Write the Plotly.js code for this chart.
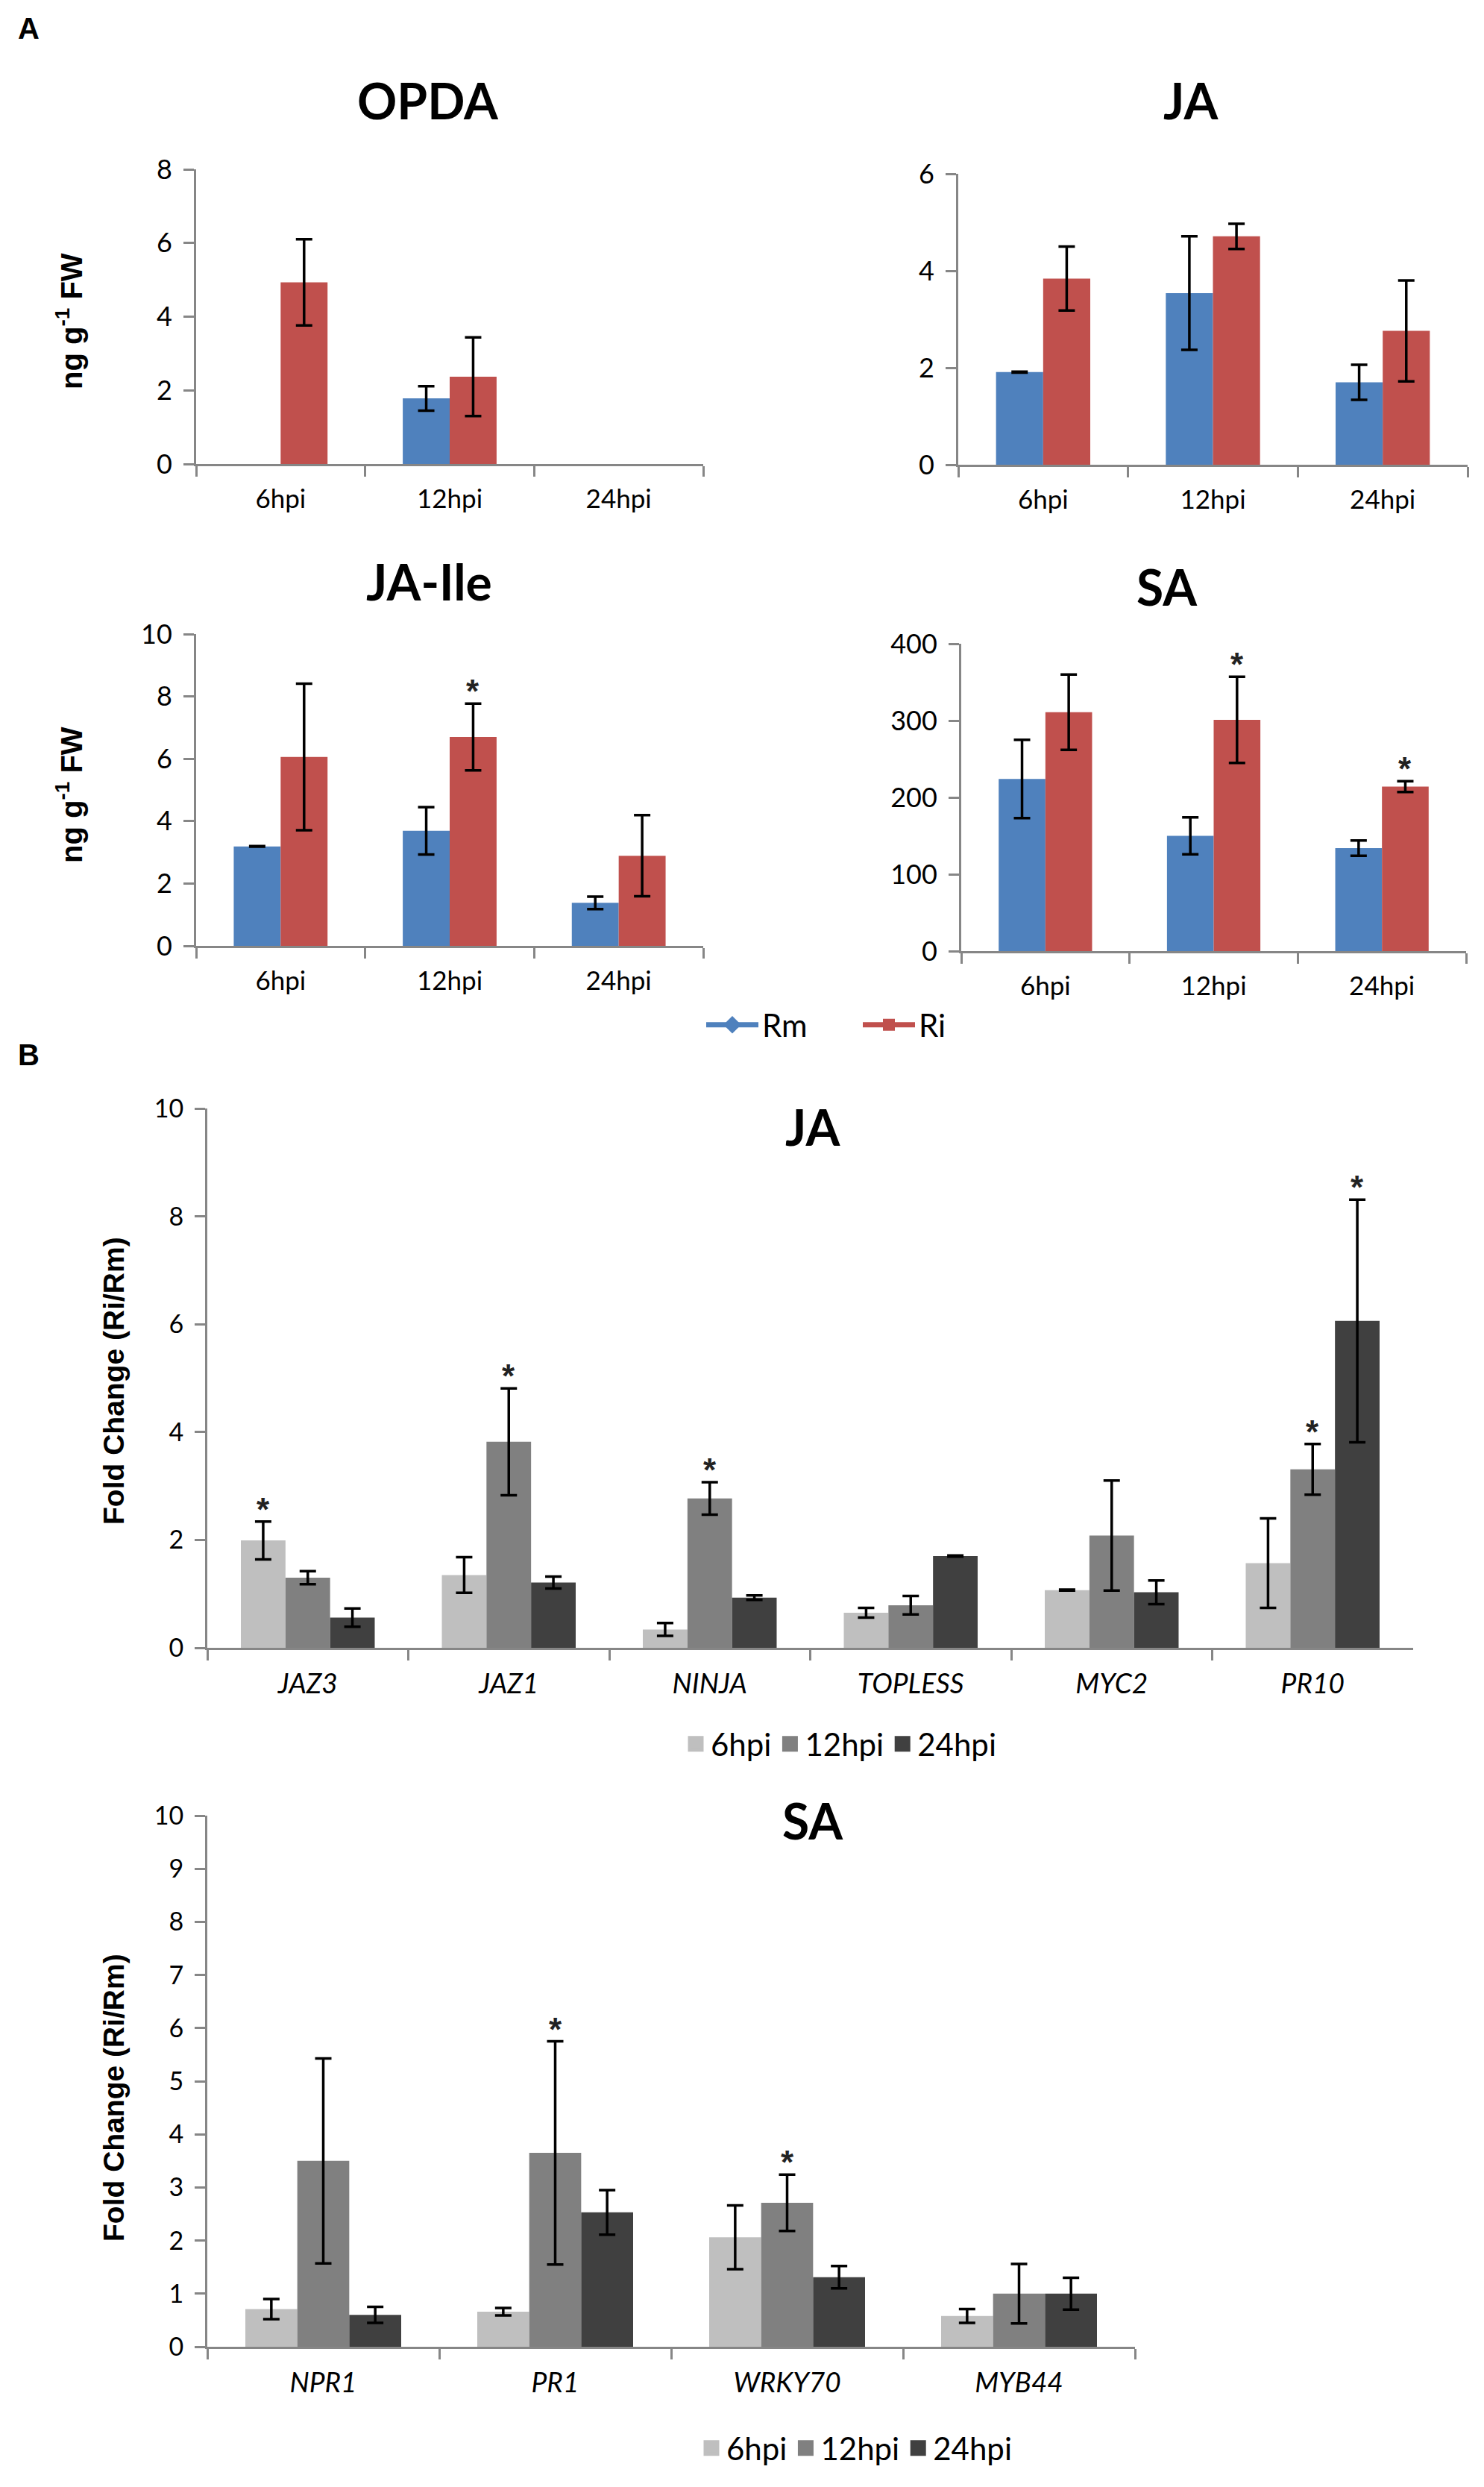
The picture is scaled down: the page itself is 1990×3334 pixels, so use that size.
<!DOCTYPE html>
<html><head><meta charset="utf-8">
<script src="https://cdn.plot.ly/plotly-3.0.1.min.js"></script>
<style>html,body{margin:0;padding:0;background:#fff}</style>
</head><body><div id="chart" style="width:1990px;height:3334px"></div>
<script>
// ---------- DATA ----------
const timepoints = ['6hpi', '12hpi', '24hpi'];

// Panel A: hormone levels (ng g-1 FW), Rm vs Ri
const opdaRm = [null, 1.78, null];
const opdaRmErr = [0, 0.33, 0];
const opdaRi = [4.93, 2.37, null];
const opdaRiErr = [1.17, 1.07, 0];
const opdaRmSig = [false, false, false];
const opdaRiSig = [false, false, false];

const jaRm = [1.91, 3.54, 1.70];
const jaRmErr = [0.01, 1.17, 0.36];
const jaRi = [3.84, 4.71, 2.76];
const jaRiErr = [0.66, 0.26, 1.04];
const jaRmSig = [false, false, false];
const jaRiSig = [false, false, false];

const jaIleRm = [3.19, 3.69, 1.38];
const jaIleRmErr = [0.01, 0.76, 0.20];
const jaIleRi = [6.06, 6.70, 2.89];
const jaIleRiErr = [2.35, 1.07, 1.30];
const jaIleRmSig = [false, false, false];
const jaIleRiSig = [false, true, false];

const saRm = [224, 150, 134];
const saRmErr = [51, 24, 10];
const saRi = [311, 301, 214];
const saRiErr = [49, 56, 7];
const saRmSig = [false, false, false];
const saRiSig = [false, true, true];

// Panel B: fold change (Ri/Rm)
const jaGenes = ['JAZ3', 'JAZ1', 'NINJA', 'TOPLESS', 'MYC2', 'PR10'];
const jaG6 = [1.99, 1.35, 0.34, 0.65, 1.07, 1.57];
const jaG6Err = [0.35, 0.33, 0.12, 0.09, 0.01, 0.83];
const jaG6Sig = [true, false, false, false, false, false];
const jaG12 = [1.30, 3.82, 2.77, 0.79, 2.08, 3.31];
const jaG12Err = [0.12, 0.99, 0.30, 0.17, 1.02, 0.47];
const jaG12Sig = [false, true, true, false, false, true];
const jaG24 = [0.56, 1.21, 0.93, 1.70, 1.03, 6.06];
const jaG24Err = [0.17, 0.11, 0.04, 0.01, 0.22, 2.25];
const jaG24Sig = [false, false, false, false, false, true];

const saGenes = ['NPR1', 'PR1', 'WRKY70', 'MYB44'];
const saG6 = [0.71, 0.66, 2.06, 0.58];
const saG6Err = [0.19, 0.07, 0.60, 0.13];
const saG6Sig = [false, false, false, false];
const saG12 = [3.50, 3.65, 2.71, 1.00];
const saG12Err = [1.93, 2.10, 0.53, 0.56];
const saG12Sig = [false, true, true, false];
const saG24 = [0.60, 2.53, 1.31, 1.00];
const saG24Err = [0.15, 0.42, 0.21, 0.30];
const saG24Sig = [false, false, false, false];

// ---------- STYLE / LAYOUT ----------
const W = 1990, H = 3334;
const AX_COLOR = '#868686';
const RM_COLOR = '#4F81BD', RI_COLOR = '#C0504D';
const G6_COLOR = '#BFBFBF', G12_COLOR = '#808080', G24_COLOR = '#404040';
const TXT = 'Lato, "Open Sans", sans-serif';
const ARIAL = '"Liberation Sans", Arial, sans-serif';
const xd = (a, b) => [a / W, b / W];
const yd = (top, bottom) => [1 - bottom / H, 1 - top / H];

const panels = [
  {id: '',  cats: timepoints, x: [263, 943],  y: [227, 622],  range: [0, 8],   dtick: 2,   title: 'OPDA',  tx: 574, ty: 134, tick: 36, cat: 35, catItalic: false},
  {id: '2', cats: timepoints, x: [1285, 1968], y: [233, 623], range: [0, 6],   dtick: 2,   title: 'JA',    tx: 1597, ty: 134, tick: 36, cat: 35, catItalic: false},
  {id: '3', cats: timepoints, x: [263, 943],  y: [850, 1268], range: [0, 10],  dtick: 2,   title: 'JA-Ile', tx: 575, ty: 780, tick: 36, cat: 35, catItalic: false},
  {id: '4', cats: timepoints, x: [1289, 1966], y: [863, 1275], range: [0, 400], dtick: 100, title: 'SA',    tx: 1565, ty: 786, tick: 36, cat: 35, catItalic: false},
  {id: '5', cats: jaGenes,    x: [278, 1895], y: [1486, 2209], range: [0, 10],  dtick: 2,   title: 'JA',    tx: 1090, ty: 1511, tick: 34, cat: 37, catItalic: true},
  {id: '6', cats: saGenes,    x: [278, 1522], y: [2434, 3146], range: [0, 10],  dtick: 1,   title: 'SA',    tx: 1090, ty: 2440, tick: 34, cat: 37, catItalic: true}
];

const layout = {
  width: W, height: H,
  margin: {l: 0, r: 0, t: 0, b: 0},
  paper_bgcolor: '#fff', plot_bgcolor: '#fff',
  showlegend: true,
  font: {family: TXT, color: '#000'},
  annotations: []
};

panels.forEach(p => {
  const xk = 'xaxis' + p.id, yk = 'yaxis' + p.id;
  layout[xk] = {
    type: 'category', domain: xd(p.x[0], p.x[1]), anchor: 'y' + p.id,
    range: [-0.5, p.cats.length - 0.5], categoryorder: 'array', categoryarray: p.cats,
    showline: true, linecolor: AX_COLOR, linewidth: 3,
    ticks: 'outside', tickson: 'boundaries', ticklen: 14, tickwidth: 3, tickcolor: AX_COLOR,
    tickfont: {family: TXT, size: p.cat, color: '#000', style: p.catItalic ? 'italic' : 'normal'},
    ticklabelstandoff: 14,
    showgrid: false, zeroline: false, fixedrange: true
  };
  layout[yk] = {
    domain: yd(p.y[0], p.y[1]), anchor: 'x' + p.id,
    range: p.range, dtick: p.dtick, tick0: 0,
    showline: true, linecolor: AX_COLOR, linewidth: 3,
    ticks: 'outside', ticklen: 14, tickwidth: 3, tickcolor: AX_COLOR,
    tickfont: {family: TXT, size: p.tick, color: '#000'},
    ticklabelstandoff: 8,
    showgrid: false, zeroline: false, fixedrange: true
  };
  layout.annotations.push({
    xref: 'paper', yref: 'paper', x: p.tx / W, y: 1 - p.ty / H,
    xanchor: 'center', yanchor: 'middle', showarrow: false,
    text: '<b>' + p.title + '</b>', font: {family: TXT, size: 66, color: '#000'}
  });
});

const traces = [];
function addGroup(pid, cats, seriesList, groupW) {
  const n = seriesList.length;
  const barW = groupW / n;
  seriesList.forEach((s, i) => {
    const off = -groupW / 2 + i * barW;
    traces.push({
      type: 'bar', x: cats, y: s.vals, name: s.name,
      xaxis: 'x' + pid, yaxis: 'y' + pid,
      width: barW, offset: off,
      marker: {color: s.color, line: {width: 0}},
      error_y: {type: 'data', array: s.err, visible: true, color: '#000', thickness: 3.5, width: 11},
      showlegend: false,
      hoverinfo: 'skip'
    });
    s.sig.forEach((flag, k) => {
      if (!flag) return;
      layout.annotations.push({
        xref: 'x' + pid, yref: 'y' + pid,
        x: k + off + barW / 2, y: s.vals[k] + s.err[k],
        xanchor: 'center', yanchor: 'bottom', yshift: -10, showarrow: false,
        text: '<b>*</b>', font: {family: ARIAL, size: 44, color: '#222'}
      });
    });
  });
}

addGroup('', timepoints, [
  {name: 'Rm', vals: opdaRm, err: opdaRmErr, sig: opdaRmSig, color: RM_COLOR},
  {name: 'Ri', vals: opdaRi, err: opdaRiErr, sig: opdaRiSig, color: RI_COLOR}], 0.555);
addGroup('2', timepoints, [
  {name: 'Rm', vals: jaRm, err: jaRmErr, sig: jaRmSig, color: RM_COLOR},
  {name: 'Ri', vals: jaRi, err: jaRiErr, sig: jaRiSig, color: RI_COLOR}], 0.555);
addGroup('3', timepoints, [
  {name: 'Rm', vals: jaIleRm, err: jaIleRmErr, sig: jaIleRmSig, color: RM_COLOR},
  {name: 'Ri', vals: jaIleRi, err: jaIleRiErr, sig: jaIleRiSig, color: RI_COLOR}], 0.555);
addGroup('4', timepoints, [
  {name: 'Rm', vals: saRm, err: saRmErr, sig: saRmSig, color: RM_COLOR},
  {name: 'Ri', vals: saRi, err: saRiErr, sig: saRiSig, color: RI_COLOR}], 0.555);
addGroup('5', jaGenes, [
  {name: '6hpi', vals: jaG6, err: jaG6Err, sig: jaG6Sig, color: G6_COLOR},
  {name: '12hpi', vals: jaG12, err: jaG12Err, sig: jaG12Sig, color: G12_COLOR},
  {name: '24hpi', vals: jaG24, err: jaG24Err, sig: jaG24Sig, color: G24_COLOR}], 0.666);
addGroup('6', saGenes, [
  {name: '6hpi', vals: saG6, err: saG6Err, sig: saG6Sig, color: G6_COLOR},
  {name: '12hpi', vals: saG12, err: saG12Err, sig: saG12Sig, color: G12_COLOR},
  {name: '24hpi', vals: saG24, err: saG24Err, sig: saG24Sig, color: G24_COLOR}], 0.672);

// Legend keys (no data; legend entries only)
function legendKey(name, color, legend, xa, ya, opts) {
  traces.push(Object.assign({type: 'scatter', x: [null], y: [null], name: name,
    xaxis: xa, yaxis: ya, legend: legend, showlegend: true, hoverinfo: 'skip'}, opts(color)));
}
legendKey('Rm', RM_COLOR, 'legend', 'x', 'y', c => ({mode: 'lines+markers', line: {color: c, width: 7},
  marker: {symbol: 'diamond', size: 16, color: c, line: {color: c, width: 2}}}));
legendKey('Ri', RI_COLOR, 'legend', 'x', 'y', c => ({mode: 'lines+markers', line: {color: c, width: 7},
  marker: {symbol: 'square', size: 14, color: c, line: {color: c, width: 2}}}));
const sq = c => ({mode: 'markers', marker: {symbol: 'square', size: 16, color: c, line: {color: c, width: 5}}});
[['6hpi', G6_COLOR], ['12hpi', G12_COLOR], ['24hpi', G24_COLOR]].forEach(([n, c]) => {
  legendKey(n, c, 'legend2', 'x5', 'y5', sq);
});
[['6hpi', G6_COLOR], ['12hpi', G12_COLOR], ['24hpi', G24_COLOR]].forEach(([n, c]) => {
  legendKey(n, c, 'legend3', 'x6', 'y6', sq);
});

const legBase = {orientation: 'h', xanchor: 'center', yanchor: 'middle', bgcolor: 'rgba(0,0,0,0)',
  font: {family: TXT, size: 42, color: '#000'}, itemclick: false, itemdoubleclick: false};
layout.legend = Object.assign({}, legBase, {x: 1152 / W, y: 1 - 1374 / H, itemwidth: 70,
  entrywidth: 125, entrywidthmode: 'pixels'});
layout.legend2 = Object.assign({}, legBase, {x: 1127 / W, y: 1 - 2338 / H, itemwidth: 30});
layout.legend3 = Object.assign({}, legBase, {x: 1148 / W, y: 1 - 3282 / H, itemwidth: 30});

// Axis titles and panel letters
layout.annotations.push(
  {xref: 'paper', yref: 'paper', x: 93 / W, y: 1 - 431 / H, textangle: -90, showarrow: false,
   xanchor: 'center', yanchor: 'middle', text: '<b>ng g<sup>-1</sup> FW</b>',
   font: {family: ARIAL, size: 40, color: '#000'}},
  {xref: 'paper', yref: 'paper', x: 93 / W, y: 1 - 1066 / H, textangle: -90, showarrow: false,
   xanchor: 'center', yanchor: 'middle', text: '<b>ng g<sup>-1</sup> FW</b>',
   font: {family: ARIAL, size: 40, color: '#000'}},
  {xref: 'paper', yref: 'paper', x: 152 / W, y: 1 - 1851 / H, textangle: -90, showarrow: false,
   xanchor: 'center', yanchor: 'middle', text: '<b>Fold Change (Ri/Rm)</b>',
   font: {family: ARIAL, size: 39, color: '#000'}},
  {xref: 'paper', yref: 'paper', x: 152 / W, y: 1 - 2812 / H, textangle: -90, showarrow: false,
   xanchor: 'center', yanchor: 'middle', text: '<b>Fold Change (Ri/Rm)</b>',
   font: {family: ARIAL, size: 39, color: '#000'}},
  {xref: 'paper', yref: 'paper', x: 38 / W, y: 1 - 38 / H, showarrow: false,
   xanchor: 'center', yanchor: 'middle', text: '<b>A</b>',
   font: {family: ARIAL, size: 40, color: '#000'}},
  {xref: 'paper', yref: 'paper', x: 38 / W, y: 1 - 1414 / H, showarrow: false,
   xanchor: 'center', yanchor: 'middle', text: '<b>B</b>',
   font: {family: ARIAL, size: 40, color: '#000'}}
);

Plotly.newPlot('chart', traces, layout, {staticPlot: true, displayModeBar: false});
</script></body></html>
